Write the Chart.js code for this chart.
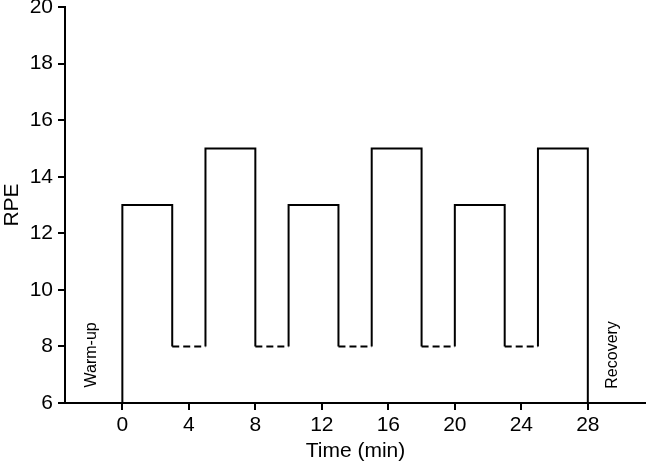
<!DOCTYPE html>
<html>
<head>
<meta charset="utf-8">
<script src="https://cdn.jsdelivr.net/npm/chart.js@4"></script>
<style>
  html, body { margin: 0; padding: 0; background: #fff; }
  #wrap { width: 646px; height: 464px; }
</style>
</head>
<body>
<div id="wrap"><canvas id="rpeChart"></canvas></div>
<script>
// data
const stageStart = [0, 3, 5, 8, 10, 13, 15, 18, 20, 23, 25];
const stageEnd   = [3, 5, 8, 10, 13, 15, 18, 20, 23, 25, 28];
const stageRpe   = [13, 8, 15, 8, 13, 8, 15, 8, 13, 8, 15];
const baseRpe = 6;
const recoveryRpe = 8;   // dashed parts

const xTicks = [0, 4, 8, 12, 16, 20, 24, 28];
const yTicks = [6, 8, 10, 12, 14, 16, 18, 20];

const phaseNames = ['Warm-up', 'Recovery'];
const phaseX = [-1.85, 29.5];
const phaseY = [7.7, 7.7];

const FONT = '"Liberation Sans", Arial, Helvetica, sans-serif';

// build the step line
const pts = [{x: stageStart[0], y: baseRpe}];
for (let i = 0; i < stageRpe.length; i++) {
    pts.push({x: stageStart[i], y: stageRpe[i]});
    pts.push({x: stageEnd[i], y: stageRpe[i]});
}
pts.push({x: stageEnd[stageEnd.length - 1], y: baseRpe});

const phaseText = {
    id: 'phaseText',
    afterDatasetsDraw(chart) {
        const c = chart.ctx, xs = chart.scales.x, ys = chart.scales.y;
        c.save();
        c.fillStyle = '#000';
        c.font = '16px ' + FONT;
        c.textAlign = 'center';
        c.textBaseline = 'middle';
        phaseNames.forEach((t, i) => {
            c.save();
            c.translate(xs.getPixelForValue(phaseX[i]), ys.getPixelForValue(phaseY[i]));
            c.rotate(-Math.PI / 2);
            c.fillText(t, 0, 0);
            c.restore();
        });
        c.restore();
    }
};

new Chart(document.getElementById('rpeChart'), {
    type: 'scatter',
    data: {
        datasets: [{
            data: pts,
            showLine: true,
            borderColor: '#000',
            borderWidth: 2,
            pointRadius: 0,
            fill: false,
            tension: 0,
            segment: {
                borderDash: ctx => (ctx.p0.parsed.y === recoveryRpe && ctx.p1.parsed.y === recoveryRpe) ? [7, 4] : undefined
            }
        }]
    },
    options: {
        responsive: true,
        maintainAspectRatio: false,
        animation: false,
        layout: { padding: { top: 7, right: 0, left: 0, bottom: 0 } },
        plugins: { legend: { display: false }, tooltip: { enabled: false } },
        scales: {
            x: {
                type: 'linear',
                min: -3.45, max: 31.5,
                afterBuildTicks: s => { s.ticks = xTicks.map(v => ({value: v})); },
                afterFit: s => { s.height = 61; s.paddingLeft = 0; s.paddingRight = 0; },
                grid: { drawOnChartArea: false, drawTicks: true, tickLength: 7, color: '#000', lineWidth: 2 },
                border: { display: true, color: '#000', width: 2 },
                ticks: { color: '#000', padding: 3, maxRotation: 0, autoSkip: false, font: { family: FONT, size: 21 } },
                title: { display: true, text: 'Time (min)', color: '#000', padding: { top: 0, bottom: 0 }, font: { family: FONT, size: 21 } }
            },
            y: {
                min: 6, max: 20,
                afterBuildTicks: s => { s.ticks = yTicks.map(v => ({value: v})); },
                afterFit: s => { s.width = 65; s.paddingTop = 0; s.paddingBottom = 0; },
                grid: { drawOnChartArea: false, drawTicks: true, tickLength: 7, color: '#000', lineWidth: 2 },
                border: { display: true, color: '#000', width: 2 },
                ticks: { color: '#000', padding: 5, autoSkip: false, font: { family: FONT, size: 21 } },
                title: { display: true, text: 'RPE', color: '#000', padding: { top: 0, bottom: 0 }, font: { family: FONT, size: 21 } }
            }
        }
    },
    plugins: [phaseText]
});
</script>
</body>
</html>
